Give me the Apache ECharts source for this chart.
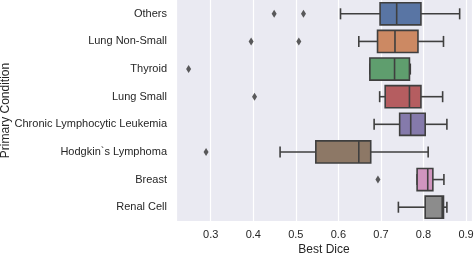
<!DOCTYPE html>
<html>
<head>
<meta charset="utf-8">
<script src="https://cdn.jsdelivr.net/npm/echarts@6/dist/echarts.min.js"></script>
<style>
html,body{margin:0;padding:0;background:#fff;}
#chart{width:474px;height:254px;}
</style>
</head>
<body>
<div id="chart"></div>
<script>
// Categories (top to bottom)
const categories = ['Others','Lung Non-Small','Thyroid','Lung Small','Chronic Lymphocytic Leukemia','Hodgkin`s Lymphoma','Breast','Renal Cell'];
// Box statistics per category
const whiskerLow  = [0.605, 0.648, 0.674, 0.697, 0.684, 0.463, 0.785, 0.741];
const quartile1   = [0.698, 0.692, 0.674, 0.710, 0.744, 0.547, 0.785, 0.804];
const medians     = [0.737, 0.733, 0.732, 0.767, 0.770, 0.648, 0.810, 0.844];
const quartile3   = [0.794, 0.787, 0.767, 0.794, 0.804, 0.676, 0.822, 0.847];
const whiskerHigh = [0.885, 0.847, 0.769, 0.845, 0.855, 0.811, 0.848, 0.855];
// Outliers
const outlierCategories = ['Others','Others','Lung Non-Small','Lung Non-Small','Thyroid','Lung Small','Hodgkin`s Lymphoma','Breast'];
const outlierValues     = [0.449, 0.518, 0.395, 0.507, 0.248, 0.403, 0.289, 0.693];
// X tick labels
const xTicks = [0.3, 0.4, 0.5, 0.6, 0.7, 0.8, 0.9];

const palette = ['#5975a4','#cc8963','#5f9e6e','#b55d60','#857aab','#8d7866','#d095bf','#8c8c8c'];
const edge = '#3f3f3f';
const font = 'Arial, "Liberation Sans", Helvetica, sans-serif';

const boxData = categories.map((c, i) => [i, whiskerLow[i], quartile1[i], medians[i], quartile3[i], whiskerHigh[i]]);
const outlierData = outlierCategories.map((c, i) => [outlierValues[i], categories.indexOf(c)]);

const chart = echarts.init(document.getElementById('chart'), null, {renderer: 'canvas'});
chart.setOption({
  animation: false,
  backgroundColor: '#ffffff',
  grid: {left: 176, right: 2, top: 0, bottom: 33, show: true, backgroundColor: '#eaeaf2', borderWidth: 0,
         containLabel: false, outerBoundsMode: 'none'},
  xAxis: {
    type: 'value', min: 0.2184, max: 0.914, splitNumber: 7,
    name: 'Best Dice', nameLocation: 'middle', nameGap: 23, nameMoveOverlap: false,
    nameTextStyle: {fontFamily: font, fontSize: 12, color: '#262626'},
    axisLine: {show: false}, axisTick: {show: false},
    axisLabel: {
      fontFamily: font, fontSize: 11, color: '#262626', margin: 8,
      showMinLabel: false, showMaxLabel: false,
      formatter: v => {
        const t = xTicks.find(x => Math.abs(x - v) < 1e-6);
        return t === undefined ? '' : t.toFixed(1);
      }
    },
    splitLine: {show: true, lineStyle: {color: '#ffffff', width: 1.2}}
  },
  yAxis: {
    type: 'category', data: categories, inverse: true,
    name: 'Primary Condition', nameLocation: 'middle', nameGap: 164, nameRotate: 90, nameMoveOverlap: false,
    nameTextStyle: {fontFamily: font, fontSize: 12, color: '#262626'},
    axisLine: {show: false}, axisTick: {show: false},
    axisLabel: {fontFamily: font, fontSize: 11, color: '#262626', margin: 9},
    splitLine: {show: false}
  },
  series: [
    {
      type: 'custom',
      data: boxData,
      encode: {x: [1, 2, 3, 4, 5], y: 0},
      renderItem: function (params, api) {
        const cat = api.value(0);
        const pLo = api.coord([api.value(1), cat]);
        const pQ1 = api.coord([api.value(2), cat]);
        const pMed = api.coord([api.value(3), cat]);
        const pQ3 = api.coord([api.value(4), cat]);
        const pHi = api.coord([api.value(5), cat]);
        const band = api.size([0, 1])[1];
        const h = band * 0.8;
        const cap = h / 4;
        const y = pMed[1];
        const lineStyle = {stroke: edge, lineWidth: 1.6, fill: null};
        const color = palette[params.dataIndex % palette.length];
        return {
          type: 'group',
          children: [
            {type: 'line', shape: {x1: pLo[0], y1: y, x2: pQ1[0], y2: y}, style: lineStyle},
            {type: 'line', shape: {x1: pQ3[0], y1: y, x2: pHi[0], y2: y}, style: lineStyle},
            {type: 'line', shape: {x1: pLo[0], y1: y - cap, x2: pLo[0], y2: y + cap}, style: lineStyle},
            {type: 'line', shape: {x1: pHi[0], y1: y - cap, x2: pHi[0], y2: y + cap}, style: lineStyle},
            {type: 'rect', shape: {x: pQ1[0], y: y - h / 2, width: pQ3[0] - pQ1[0], height: h},
             style: {fill: color, stroke: edge, lineWidth: 1.6}},
            {type: 'line', shape: {x1: pMed[0], y1: y - h / 2, x2: pMed[0], y2: y + h / 2}, style: lineStyle}
          ]
        };
      },
      z: 3
    },
    {
      type: 'scatter',
      data: outlierData,
      symbol: 'diamond',
      symbolSize: [5, 8],
      itemStyle: {color: '#333333'},
      z: 4
    }
  ]
});
</script>
</body>
</html>
